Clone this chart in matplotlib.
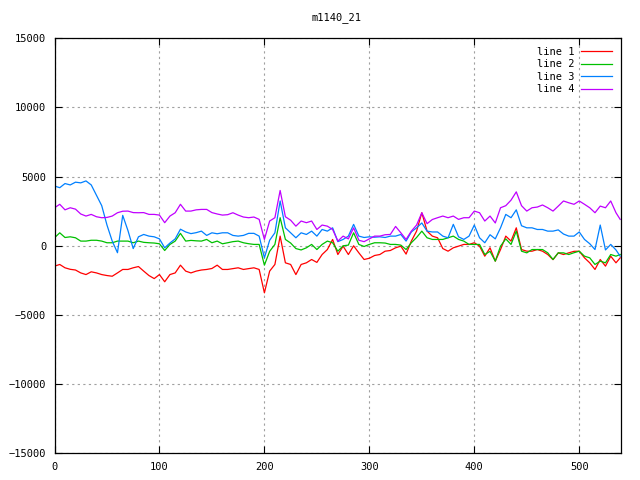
import numpy as np
import matplotlib
matplotlib.use("Agg")
import matplotlib.pyplot as plt

# sample positions (every 5 samples, plus the last one)
x = list(range(0, 540, 5)) + [539]

line1 = [-1470, -1350, -1590, -1700, -1750, -1960, -2080, -1880, -1960, -2080,
         -2150, -2200, -1960, -1710, -1710, -1590, -1500, -1830, -2150, -2370,
         -2080, -2600, -2080, -1960, -1400, -1830, -1960, -1830, -1750, -1710,
         -1640, -1400, -1710, -1710, -1650, -1590, -1710, -1650, -1590, -1710,
         -3400, -1830, -1350, 700, -1230, -1350, -2080, -1350, -1230, -990,
         -1200, -630, -270, 460, -630, -25, -630, 0, -510, -990,
         -900, -700, -630, -390, -340, -145, -25, -600, 340, 1060,
         2390, 1060, 700, 580, -200, -390, -145, -25, 100, 100,
         220, -25, -750, -145, -1110, -270, 700, 340, 1300, -270,
         -390, -390, -270, -390, -630, -1000, -510, -630, -510, -400,
         -390, -870, -1230, -1710, -990, -1470, -750, -1230,
         -870]

line2 = [580, 940, 600, 650, 580, 340, 340, 400, 400, 340,
         220, 220, 340, 340, 340, 220, 340, 250, 220, 200,
         145, -340, 100, 340, 900, 340, 390, 360, 340, 460,
         220, 340, 145, 220, 300, 340, 220, 150, 100, 100,
         -1400, -400, 100, 2030, 460, 200, -200, -300, -145, 100,
         -270, 100, 340, 220, -390, 0, 50, 940, 100, -50,
         100, 220, 220, 200, 100, 100, 50, -270, 220, 600,
         1060, 580, 460, 460, 460, 580, 700, 460, 340, 100,
         100, 100, -630, -400, -1110, -25, 500, 100, 1060, -390,
         -510, -270, -270, -270, -510, -990, -510, -510, -630, -500,
         -390, -750, -870, -1350, -1110, -1230, -630, -750,
         -630]

line3 = [4320, 4200, 4500, 4400, 4600, 4550, 4690, 4400, 3650, 2900,
         1500, 340, -500, 2200, 1100, -200, 650, 820, 700, 650,
         500, -145, 200, 500, 1200, 1000, 880, 950, 1060, 750,
         940, 870, 940, 940, 750, 700, 750, 900, 900, 700,
         -870, 400, 940, 3240, 1300, 940, 580, 940, 820, 1060,
         700, 1180, 1060, 1300, 300, 460, 700, 1550, 700, 600,
         650, 620, 650, 600, 700, 700, 820, 340, 1000, 1300,
         1650, 1060, 1000, 1000, 700, 580, 1550, 650, 460, 700,
         1500, 580, 220, 800, 500, 1300, 2270, 2030, 2600, 1450,
         1300, 1300, 1180, 1180, 1060, 1060, 1150, 850, 700, 700,
         1000, 460, 150, -270, 1500, -300, 100, -300,
         -750]

line4 = [2750, 3000, 2600, 2750, 2650, 2300, 2150, 2270, 2100, 2030,
         2050, 2150, 2390, 2500, 2510, 2400, 2390, 2400, 2270, 2270,
         2220, 1670, 2150, 2390, 3000, 2510, 2510, 2600, 2630, 2630,
         2400, 2300, 2220, 2250, 2390, 2220, 2080, 2030, 2080, 1910,
         460, 1790, 2030, 4000, 2100, 1850, 1420, 1790, 1670, 1790,
         1180, 1500, 1420, 1180, 340, 700, 500, 1300, 400, 300,
         500, 700, 700, 800, 820, 1400, 940, 460, 1060, 1500,
         2390, 1600, 1900, 2030, 2150, 2030, 2150, 1910, 2030, 2030,
         2510, 2390, 1790, 2150, 1650, 2750, 2900, 3300, 3900, 2900,
         2510, 2750, 2800, 2950, 2750, 2510, 2870, 3240, 3110, 3000,
         3240, 3000, 2750, 2390, 2870, 2750, 3240, 2390,
         1910]

labels = ['line 1', 'line 2', 'line 3', 'line 4']
colors = ['#ff0000', '#00c000', '#0080ff', '#c000ff']

plt.rcParams['font.family'] = ['DejaVu Sans Mono']
plt.rcParams['font.size'] = 7.5

fig = plt.figure(figsize=(6.4, 4.8), dpi=100)
ax = fig.add_axes([54.5 / 640, 1 - 453.3 / 480, (620.7 - 54.5) / 640, (453.3 - 38.3) / 480])

for ys, lab, col in zip([line1, line2, line3, line4], labels, colors):
    ax.plot(x, ys, color=col, lw=0.9, label=lab)

ax.set_xlim(0, 539.5)
ax.set_ylim(-15000, 15000)
ax.set_xticks([0, 100, 200, 300, 400, 500])
ax.set_yticks([-15000, -10000, -5000, 0, 5000, 10000, 15000])

ax.grid(True, color='#a0a0a0', linestyle=(0, (2, 3)), linewidth=0.8)
ax.tick_params(direction='in', length=5, width=0.8, top=True, right=True,
               pad=6, labelsize=7.5)
for sp in ax.spines.values():
    sp.set_linewidth(0.9)

ax.legend(loc='upper right', frameon=False, markerfirst=False,
          handlelength=3.0, labelspacing=0.25, handletextpad=0.6,
          borderaxespad=0.4, fontsize=7.5)

fig.text(337 / 640, 1 - 18 / 480, 'm1140_21', ha='center', va='center', fontsize=7.5)

fig.savefig('out.png', dpi=100)
